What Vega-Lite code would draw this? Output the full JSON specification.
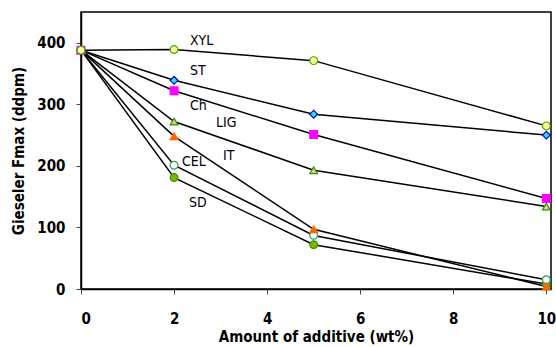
{
  "$schema": "https://vega.github.io/schema/vega-lite/v6.json",
  "width": 470,
  "height": 277,
  "autosize": {"type": "none"},
  "padding": {"left": 81, "top": 12, "right": 5, "bottom": 58},
  "background": "white",
  "config": {
    "view": {"stroke": "black", "strokeWidth": 1.5},
    "font": "'DejaVu Sans Condensed', 'Liberation Sans', sans-serif"
  },
  "datasets": {
    "pts": [
      {"s": "SD", "x": 0, "y": 388}, {"s": "SD", "x": 2, "y": 181}, {"s": "SD", "x": 5, "y": 72}, {"s": "SD", "x": 10, "y": 8},
      {"s": "CEL", "x": 0, "y": 388}, {"s": "CEL", "x": 2, "y": 201}, {"s": "CEL", "x": 5, "y": 87}, {"s": "CEL", "x": 10, "y": 15},
      {"s": "IT", "x": 0, "y": 388}, {"s": "IT", "x": 2, "y": 248}, {"s": "IT", "x": 5, "y": 97}, {"s": "IT", "x": 10, "y": 4},
      {"s": "LIG", "x": 0, "y": 388}, {"s": "LIG", "x": 2, "y": 272}, {"s": "LIG", "x": 5, "y": 193}, {"s": "LIG", "x": 10, "y": 134},
      {"s": "Ch", "x": 0, "y": 388}, {"s": "Ch", "x": 2, "y": 322}, {"s": "Ch", "x": 5, "y": 251}, {"s": "Ch", "x": 10, "y": 147},
      {"s": "ST", "x": 0, "y": 388}, {"s": "ST", "x": 2, "y": 339}, {"s": "ST", "x": 5, "y": 284}, {"s": "ST", "x": 10, "y": 250},
      {"s": "XYL", "x": 0, "y": 388}, {"s": "XYL", "x": 2, "y": 389}, {"s": "XYL", "x": 5, "y": 371}, {"s": "XYL", "x": 10, "y": 265}
    ],
    "labels": [
      {"t": "XYL", "x": 2.34, "y": 403},
      {"t": "ST", "x": 2.34, "y": 354},
      {"t": "Ch", "x": 2.34, "y": 297},
      {"t": "LIG", "x": 2.9, "y": 269},
      {"t": "IT", "x": 3.05, "y": 216},
      {"t": "CEL", "x": 2.17, "y": 207},
      {"t": "SD", "x": 2.32, "y": 139}
    ]
  },
  "layer": [
    {
      "data": {"name": "pts"},
      "mark": {"type": "line", "color": "black", "strokeWidth": 1.5},
      "encoding": {
        "x": {"field": "x", "type": "quantitative", "scale": {"domain": [0, 10.1], "nice": false},
          "axis": {"values": [0, 2, 4, 6, 8, 10], "title": "Amount of additive (wt%)", "grid": false,
            "domainColor": "black", "domainWidth": 1.5, "tickColor": "#444", "tickSize": 5,
            "labelFontSize": 15, "labelFontWeight": "bold", "labelColor": "black", "labelPadding": 17,
            "titleFontSize": 15, "titleFontWeight": "bold", "titleColor": "black", "titlePadding": 3}},
        "y": {"field": "y", "type": "quantitative", "scale": {"domain": [0, 450], "nice": false},
          "axis": {"values": [0, 50, 100, 150, 200, 250, 300, 350, 400], "labelExpr": "datum.value % 100 == 0 ? datum.label : ''",
            "title": "Gieseler Fmax (ddpm)", "grid": false,
            "domainColor": "black", "domainWidth": 1.5, "tickColor": "#444", "tickSize": 5,
            "labelFontSize": 15, "labelFontWeight": "bold", "labelColor": "black", "labelPadding": 11,
            "titleFontSize": 15, "titleFontWeight": "bold", "titleColor": "black", "titlePadding": 10}},
        "detail": {"field": "s"}
      }
    },
    {
      "data": {"name": "pts"},
      "mark": {"type": "point", "filled": true, "size": 60, "strokeWidth": 1.2, "opacity": 1},
      "encoding": {
        "x": {"field": "x", "type": "quantitative"},
        "y": {"field": "y", "type": "quantitative"},
        "shape": {"field": "s", "type": "nominal", "legend": null,
          "scale": {"domain": ["XYL", "ST", "Ch", "LIG", "IT", "CEL", "SD"],
            "range": ["circle", "diamond", "square", "triangle-up", "triangle-up", "circle", "circle"]}},
        "fill": {"field": "s", "type": "nominal", "legend": null,
          "scale": {"domain": ["XYL", "ST", "Ch", "LIG", "IT", "CEL", "SD"],
            "range": ["#ffff99", "#33ddff", "#ff00ff", "#f5c08a", "#ff6600", "#ffffff", "#77bb00"]}},
        "stroke": {"field": "s", "type": "nominal", "legend": null,
          "scale": {"domain": ["XYL", "ST", "Ch", "LIG", "IT", "CEL", "SD"],
            "range": ["#44aa00", "#0000cc", "#ff00ff", "#229900", "#ff6600", "#339966", "#448800"]}}
      }
    },
    {
      "data": {"name": "labels"},
      "mark": {"type": "text", "align": "left", "baseline": "middle", "fontSize": 14, "color": "black"},
      "encoding": {
        "x": {"field": "x", "type": "quantitative"},
        "y": {"field": "y", "type": "quantitative"},
        "text": {"field": "t"}
      }
    }
  ]
}
